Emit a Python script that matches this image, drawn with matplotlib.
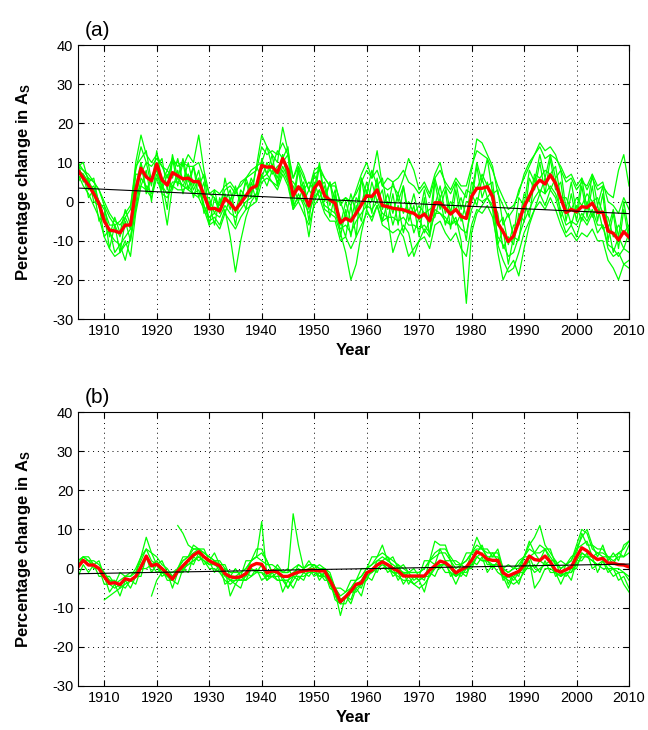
import numpy as np
import matplotlib
matplotlib.use("Agg")
import matplotlib.pyplot as plt

plt.rcParams['font.family'] = ['Liberation Sans', 'DejaVu Sans']
plt.rcParams['mathtext.fontset'] = 'custom'
plt.rcParams['mathtext.bf'] = 'Liberation Sans:bold'
plt.rcParams['mathtext.rm'] = 'Liberation Sans'
plt.rcParams['axes.unicode_minus'] = False

years = np.arange(1905, 2011)
N = np.nan

# panel (a): ensemble mean (red)
red_a = [8, 6, 4.2, 2, -0.5, -5, -7.3, -7.5, -8, -6,
         -6, 3, 8.5, 6.3, 5.3, 9.6, 5.5, 4.2, 7.4, 6.6,
         5.8, 6, 5.1, 5.1, 1.7, -1.9, -1.7, -2.4, 0.8, -0.4,
         -2.1, -0.4, 1.5, 3.4, 4, 9.2, 8.8, 8.9, 7.4, 11,
         8.1, 1.5, 3.8, 2.1, -1.1, 3.4, 5.1, 1.5, 0.4, -0.4,
         -5.4, -4.3, -5, -3, -0.8, 1.5, 1.3, 3, -1, -1.3,
         -1.7, -1.9, -2.1, -2.6, -3, -4.1, -3.2, -4.9, -0.3, -0.3,
         -1.7, -3.2, -2, -3.8, -4.3, 1.3, 3.4, 3.4, 3.8, 1.3,
         -5.5, -7.7, -10.2, -8.8, -5.1, -1.3, 1.3, 4, 5.5, 4.5,
         6.8, 4.7, 0.8, -2.8, -2, -2.6, -1.3, -1.5, -0.4, -2.8,
         -2.7, -7.5, -8.1, -9.8, -7.7, -9.1]

# panel (a): individual members (green)
a1 = [10, 8, 6, 5, 3, 0, -3, -5, -6, -4,
      -2, 10, 17, 12, 10, 12, 9, 6, 10, 10,
      9, 12, 10, 17, 8, 2, 1, -1, 3, 4,
      2, 5, 6, 8, 9, 17, 14, 12, 10, 19,
      13, 6, 10, 7, 3, 8, 9, 6, 4, 5,
      -1, 1, -1, 3, 7, 10, 6, 8, 4, 3,
      4, 2, 6, 11, 8, 3, 5, 2, 7, 10,
      4, 2, 5, 3, 1, 8, 16, 15, 12, 9,
      2, -1, -4, -2, 3, 6, 9, 12, 15, 13,
      14, 12, 8, 5, 6, 3, 5, 4, 7, 4,
      5, 0, -1, -3, 1, -2]
a2 = [7, 4, 2, -1, -4, -9, -12, -14, -13, -11,
      -10, -2, 6, 4, 2, 7, 4, 2, 5, 5,
      4, 3, 2, 1, -2, -6, -5, -7, -3, -5,
      -7, -4, -2, -1, 0, 5, 6, 5, 3, 7,
      4, -2, 0, -3, -6, -1, 1, -3, -5, -5,
      -10, -9, -12, -9, -6, -3, -4, -1, -6, -7,
      -8, -7, -9, -14, -12, -10, -9, -12, -6, -5,
      -8, -10, -8, -12, -14, -6, -2, -3, -1, -4,
      -11, -15, -18, -17, -13, -8, -5, -2, 0, -2,
      1, -2, -6, -9, -8, -10, -8, -9, -7, -10,
      -10, -15, -17, -20, -16, -17]
a3 = [8, 7, 5, 3, 0, -4, -8, -10, -11, -9,
      -7, 4, 10, 3, 6, 8, 2, -6, 4, 6,
      4, 7, 3, 6, -1, -5, -4, -6, -2, -9,
      -18, -10, -4, 0, 2, 7, 4, 8, 5, 9,
      6, -2, 2, -1, -9, 0, 3, -2, -3, -4,
      -8, -13, -20, -16, -8, -2, -5, -1, -5, -4,
      -13, -9, -6, -8, -14, -10, -7, -9, -2, -3,
      -5, -6, -4, -10, -26, -8, -3, -1, 1, -2,
      -13, -20, -17, -15, -19, -12, -6, -2, 2, -1,
      3, 1, -4, -8, -6, -9, -4, -6, -3, -8,
      -6, -12, -14, -13, -16, -15]
a4 = [9, 10, 5, 6, -1, -1, -9, -4, -8, -2,
      -6, 9, 11, 13, 5, 9, 11, 3, 12, 6,
      11, 5, 9, 4, 7, -2, 3, -3, 6, 0,
      4, -1, 6, 2, 9, 10, 14, 9, 13, 11,
      14, 1, 9, 3, 5, 3, 10, 1, 5, 0,
      0, -4, 2, -3, 6, 2, 8, 4, 6, -2,
      5, 0, 4, -3, 2, -4, 3, -5, 6, 1,
      4, -3, 5, -2, 3, 2, 10, 5, 11, 2,
      3, -6, -3, -9, 1, -1, 8, 5, 12, 6,
      12, 6, 8, -2, 5, -3, 6, -2, 7, -1,
      4, -7, -2, -9, 0, -8]
a5 = [5, 7, 1, 3, -5, -3, -12, -6, -13, -5,
      -10, 2, 4, 8, 0, 10, 3, 7, 3, 8,
      2, 7, 1, 6, -3, 0, -6, 1, -3, 1,
      -6, 2, -2, 5, 0, 11, 7, 12, 4, 12,
      5, 4, 0, 4, -5, 5, 1, 4, -4, 2,
      -9, -2, -9, -1, -5, 3, -3, 5, -5, 0,
      -6, -1, -8, -2, -8, -4, -8, -5, -4, 1,
      -6, -2, -6, -3, -10, 2, -1, 6, 1, 3,
      -11, -7, -16, -9, -10, 0, -4, 6, 2, 6,
      3, 6, -4, -1, -6, -1, -5, 0, -4, -1,
      -7, -6, -13, -9, -12, -8]
a6 = [10, 5, 6, 0, -1, -9, -7, -13, -11, -15,
      -9, -1, 10, 2, 6, 8, 5, -2, 11, 4,
      10, 3, 9, 1, 5, -6, 1, -3, 2, -2,
      3, 0, 5, 1, 9, 6, 10, 7, 9, 10,
      12, -1, 8, 0, 3, 1, 9, 0, 5, -3,
      -5, -9, -1, -9, 6, -2, 5, 0, 3, -5,
      2, -6, 4, -5, -1, -9, 1, -9, 5, -2,
      3, -7, 3, -5, 0, 0, 9, 1, 5, 0,
      -3, -12, -9, -11, -3, -5, 6, 3, 10, 2,
      11, 3, 5, -5, 2, -5, 4, -4, 4, -5,
      2, -10, -3, -12, -2, -10]
a7 = [6, 7, 3, 4, 0, -2, -6, -6, -9, -4,
      -7, 7, 7, 10, 4, 13, 5, 8, 6, 11,
      5, 10, 4, 8, 1, 1, -3, 0, 0, 3,
      -3, 3, 1, 6, 3, 10, 7, 9, 6, 12,
      6, 5, 3, 5, -2, 7, 4, 5, -1, 3,
      -6, 0, -5, 1, -1, 5, 0, 6, -2, 2,
      -3, 2, -3, 0, -3, -1, -3, -2, -1, 4,
      -3, 0, -2, 1, -4, 5, 3, 7, 4, 5,
      -6, -4, -11, -6, -6, 2, 0, 7, 6, 8,
      7, 9, 1, 1, -2, 1, -1, 2, 0, 1,
      -3, -4, -9, -6, -8, -6]
a8 = [N, N, N, N, N, N, N, N, -13, -10,
      -14, -3, 4, 3, 1, 6, 2, 1, 4, 3,
      3, 4, 2, 3, -1, -4, -3, -4, -1, -3,
      -4, -2, 0, 1, 2, 6, 7, 5, 4, 8,
      5, -1, 1, 0, -3, 1, 3, -1, -2, -3,
      -7, -6, -8, -5, -3, -1, -2, 0, -3, -4,
      -4, -5, -4, -6, -6, -7, -6, -8, -3, -3,
      -4, -6, -5, -7, -8, -2, 1, 0, 1, -1,
      -9, -11, -14, -13, -9, -5, -2, 1, 3, 2,
      4, 2, -2, -6, -5, -6, -3, -5, -2, -6,
      -6, -11, -12, -14, -12, -13]
a9 = [9, 8, 7, 5, 3, -1, -4, -6, -5, -3,
      -1, 8, 14, 10, 9, 11, 9, 8, 11, 9,
      10, 9, 9, 10, 6, 2, 3, 2, 4, 5,
      3, 4, 6, 7, 8, 14, 12, 13, 12, 15,
      12, 6, 9, 6, 3, 7, 8, 6, 4, 4,
      0, 1, 0, 2, 5, 8, 6, 13, 4, 6,
      5, 6, 8, 5, 4, 2, 4, 1, 6, 8,
      5, 3, 6, 4, 4, 9, 13, 12, 11, 8,
      4, 1, -2, -1, 2, 7, 10, 12, 14, 11,
      12, 11, 9, 6, 7, 4, 6, 3, 6, 3,
      4, 2, 1, 8, 12, 4]

# panel (b): ensemble mean (red)
red_b = [0.4, 2.1, 0.9, 0.9, 0, -2.1, -3.8, -3.6, -4.1, -2.6,
         -3, -2, 0.4, 3.2, 0.7, 1.1, 0, -1.3, -2.7, -0.7,
         0.7, 2.1, 3.4, 4.3, 3, 2, 1.3, 0.7, -1.3, -2.1,
         -2.3, -2.1, -1.3, 0.7, 1.3, 1.1, -1.1, -0.6, -0.9, -2,
         -2, -1.4, -0.9, -0.6, -0.4, -0.4, -0.6, -0.6, -3, -5.5,
         -8.5, -7.2, -5.8, -4, -3.7, -1.1, -0.4, 0.9, 1.7, 1,
         0, -0.6, -1.9, -1.9, -1.9, -1.9, -1.9, -0.4, 0.7, 1.9,
         1.5, 0.4, -1.1, -0.3, 0.4, 2.1, 4.3, 3.6, 2.4, 2.1,
         2.1, -1.1, -1.9, -1.3, -0.7, 0.9, 3.2, 2.3, 2.1, 3.2,
         1.7, -0.4, -0.9, -0.3, 0.4, 3, 5.3, 4.5, 3.2, 2.3,
         2.6, 1.4, 1.4, 1, 0.9, 0.4]

# panel (b): individual members (green)
b1 = [1, 3, 2, 1, 0, -2, -3, -3, -5, -2,
      -2, -1, 2, 5, 2, 1, -1, -2, -3, 0,
      2, 3, 4, 5, 3, 2, 1, 0, -2, -3,
      -3, -2, -1, 2, 3, 12, -2, -1, 0, -3,
      -3, -1, 0, -1, 0, 1, -1, -2, -4, -7,
      -9, -7, -8, -4, -5, -1, -1, 2, 2, 3,
      0, 1, -2, -1, -3, -2, -3, 2, 1, 5,
      2, 2, -2, 1, 0, 4, 4, 6, 2, 4,
      2, 0, -4, -1, -2, 3, 3, 4, 2, 5,
      2, 2, -2, 1, 0, 5, 6, 7, 3, 4,
      3, 3, 1, 4, 3, 6]
b2 = [-2, 1, -1, 1, -2, -2, -6, -4, -7, -3,
      -5, -2, -2, 3, -1, 1, -2, -1, -5, -1,
      -1, 2, 1, 4, 1, 2, -1, 1, -4, -3,
      -4, -2, -3, 0, -1, 1, -3, -1, -3, -3,
      -5, -2, -3, -1, -2, 0, -3, -1, -5, -6,
      -12, -7, -9, -5, -7, -2, -3, 0, 0, 1,
      -2, -1, -4, -2, -4, -3, -6, -1, -2, 1,
      -1, -1, -4, -1, -2, 2, 1, 3, -1, 1,
      -1, -2, -5, -2, -4, 0, 0, 1, -1, 2,
      -1, -1, -4, -1, -3, 2, 2, 4, 0, 1,
      0, 0, -2, -1, -4, -6]
b3 = [2, 3, 2, 2, 1, -1, -3, -4, -3, -2,
      -2, 0, 3, 8, 4, 3, 1, 0, -2, 0,
      2, 3, 5, 5, 4, 3, 2, 2, 0, -1,
      -1, -1, 0, 2, 3, 4, 2, -1, 0, -1,
      -1, 14, 6, 0, 1, 1, 0, 0, -2, -5,
      -7, -6, -5, -3, -2, 0, 1, 3, 4, 3,
      2, 1, 0, -1, -1, -1, 0, 2, 3, 4,
      4, 2, 0, 1, 2, 4, 6, 5, 4, 4,
      4, 0, -1, 0, 0, 3, 6, 8, 11, 6,
      4, 2, 0, 1, 2, 5, 8, 10, 6, 5,
      5, 3, 2, 3, 3, 4]
b4 = [N, N, N, N, N, -8, -7, -6, -5, -4,
      -3, -2, 1, 3, 1, 2, 0, -1, -2, -1,
      0, 1, 2, 3, 2, 1, 1, 1, -1, -2,
      -2, -3, -2, 0, -1, -1, -2, -2, -3, -3,
      -3, -2, -2, -2, -1, -1, -2, -2, -3, -5,
      -8, -7, -6, -4, -3, -1, 0, 1, 2, 1,
      -1, -2, -3, -3, -4, -5, -4, -2, 0, 1,
      1, -1, -2, -1, -1, 1, 3, 4, 1, 1,
      1, -2, -3, -4, -3, -1, 1, -1, 0, 1,
      1, -1, -2, -1, -1, 2, 4, 3, 2, 1,
      2, 0, 0, -1, -1, -2]
b5 = [N, N, N, N, N, N, N, N, N, N,
      N, N, N, N, -7, -3, -1, -2, -3, -1,
      0, 1, 2, 3, 2, 0, 0, -1, -3, -4,
      -3, -3, -3, -2, -1, -1, -3, -2, -2, -2,
      -5, -3, -1, -1, 0, 0, -2, -1, -3, -6,
      -9, -7, -6, -5, -4, -2, -1, 0, 1, 0,
      -1, -1, -1, -2, -2, -3, -2, 0, 0, 1,
      1, 0, -2, -1, 0, 1, 3, 2, 2, 1,
      1, -2, -2, -2, -1, 0, 2, -5, -3, 0,
      0, -1, -2, -1, -1, 1, 3, 3, 2, 1,
      1, 1, 0, 0, -1, -3]
b6 = [N, N, N, N, N, N, N, N, N, N,
      N, N, N, N, N, N, N, N, N, 11,
      9, 6, 5, 5, 4, 3, 2, 1, -1, -3,
      -2, -1, 0, 2, 3, 2, 1, 1, 0, -1,
      -1, 0, 1, 0, 1, 1, 0, 0, -2, -5,
      -8, -7, -5, -3, -2, 0, 1, 2, 3, 2,
      1, 0, -1, -1, -1, -1, 0, 2, 4, 5,
      5, 3, 1, 1, 2, 4, 5, 5, 3, 3,
      3, 0, -1, 0, 1, 3, 5, 4, 4, 5,
      3, 1, 0, 1, 2, 6, 10, 9, 5, 4,
      4, 3, 3, 4, 5, 7]
b7 = [1, 2, 2, 0, 0, -4, -4, -5, -4, -5,
      -3, -4, 0, 0, 1, -1, 0, -3, -3, -4,
      0, -1, 3, 2, 3, 1, 2, -1, 0, -7,
      -4, -5, -1, -2, 0, -3, -2, -2, -1, -6,
      -3, -5, -2, -3, 0, -2, -1, -3, -3, -8,
      -9, -9, -6, -6, -4, -3, 0, -1, 2, -1,
      0, -3, -1, -4, -2, -3, -2, -2, 1, 0,
      2, -2, -1, -2, 0, 0, 3, 2, 2, 0,
      2, -3, -2, -3, -1, -1, 3, 0, 2, 1,
      2, -2, -1, -2, 0, 0, 4, 3, 3, -1,
      2, -1, 0, -3, -2, -5]
b8 = [2, 3, 3, 1, 2, -2, -2, -4, -1, -2,
      -1, -1, 3, 5, 4, 1, 2, -1, -1, 0,
      3, 3, 6, 5, 5, 2, 4, 1, 1, -2,
      0, -2, 2, 2, 5, 5, 2, -1, 1, -1,
      0, -2, 1, 0, 2, 0, 1, 0, -1, -5,
      -5, -6, -3, -3, 0, 0, 3, 3, 6, 2,
      3, 0, 1, -1, 0, -2, 2, 2, 7, 6,
      6, 2, 2, 1, 4, 4, 8, 5, 5, 3,
      5, 0, 1, 0, 2, 3, 7, 4, 6, 5,
      5, 1, 2, 1, 3, 4, 9, 6, 6, 3,
      6, 2, 4, 2, 6, 7]

green_a = [a1, a2, a3, a4, a5, a6, a7, a8, a9]
green_b = [b1, b2, b3, b4, b5, b6, b7, b8]


def draw_panel(ax, members, mean, label):
    for m in members:
        ax.plot(years, m, color=(0, 1, 0), lw=0.9)
    ax.plot(years, mean, color='red', lw=2.4)
    p = np.polyfit(years, mean, 1)
    ax.plot(years, np.polyval(p, years), color='black', lw=0.8)
    ax.set_xlim(1905, 2010)
    ax.set_ylim(-30, 40)
    ax.set_xticks(np.arange(1910, 2011, 10))
    ax.set_yticks(np.arange(-30, 41, 10))
    ax.grid(True, color='black', linestyle=(0, (1, 4)), linewidth=0.7)
    ax.tick_params(direction='in', top=True, right=True, labelsize=10.5, length=4)
    ax.set_xlabel('Year', fontsize=12, fontweight='bold')
    ax.set_ylabel(r'Percentage change in $\mathbf{A_S}$', fontsize=12, fontweight='bold')
    ax.yaxis.set_label_coords(-0.082, 0.5)
    ax.text(0.035, 1.02, label, transform=ax.transAxes, fontsize=15, ha='center', va='bottom')


fig = plt.figure(figsize=(6.48, 7.30), dpi=100)
ax1 = fig.add_axes([0.1204, 0.5630, 0.8503, 0.3753])
ax2 = fig.add_axes([0.1204, 0.0603, 0.8503, 0.3753])
draw_panel(ax1, green_a, red_a, '(a)')
draw_panel(ax2, green_b, red_b, '(b)')

fig.savefig('out.png', dpi=100)
